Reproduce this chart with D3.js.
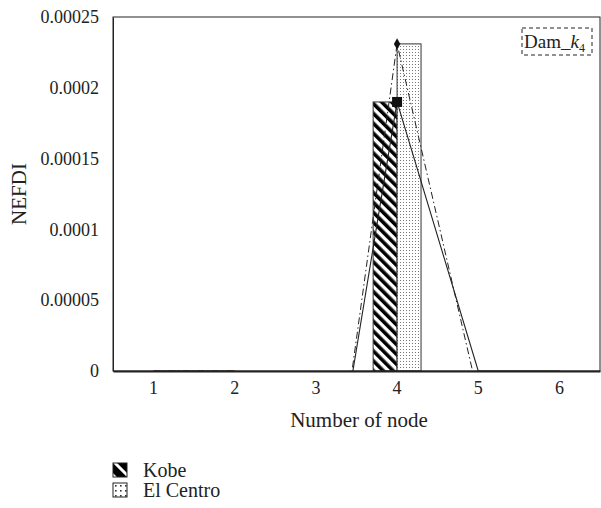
<!DOCTYPE html>
<html>
<head>
<meta charset="utf-8">
<script src="https://cdn.jsdelivr.net/npm/d3@7"></script>
<style>
  body { margin: 0; background: #fff; }
  svg { display: block; font-family: "Liberation Serif", "DejaVu Serif", serif; }
</style>
</head>
<body>
<svg id="chart" width="601" height="508"></svg>
<script>
// data
nodes = ["1", "2", "3", "4", "5", "6"]
series = ["Kobe", "El Centro"]
kobeBars = [0, 0, 0, 0.00019, 0, 0]
elCentroBars = [0, 0, 0, 0.000231, 0, 0]
// line series (parts below zero are clipped by the axis)
kobeLine = [0, 0, -0.000159, 0.00019, 0, 0]
elCentroLine = [0, 0, -0.000185, 0.000231, -0.0000174, 0]
yTicks = [0, 0.00005, 0.0001, 0.00015, 0.0002, 0.00025]
yTickLabels = ["0", "0.00005", "0.0001", "0.00015", "0.0002", "0.00025"]

const svg = d3.select("#chart")
const margin = { top: 17, right: 1, bottom: 137, left: 113 }
const W = 601, H = 508
const innerW = W - margin.left - margin.right
const innerH = H - margin.top - margin.bottom

const x = d3.scaleBand().domain(nodes).range([margin.left, W - margin.right])
const groupW = x.bandwidth() * 0.59
const x1 = d3.scaleBand().domain(series).range([-groupW / 2, groupW / 2])
const y = d3.scaleLinear().domain([0, 0.00025]).range([H - margin.bottom, margin.top])

// patterns
const defs = svg.append("defs")
const hatch = defs.append("pattern")
    .attr("id", "hatch")
    .attr("patternUnits", "userSpaceOnUse")
    .attr("width", 7).attr("height", 7)
    .attr("patternTransform", "rotate(-45)")
hatch.append("rect").attr("width", 7).attr("height", 7).attr("fill", "#fff")
hatch.append("rect").attr("width", 3.6).attr("height", 7).attr("fill", "#000")

const hatchBig = defs.append("pattern")
    .attr("id", "hatch-big")
    .attr("patternUnits", "userSpaceOnUse")
    .attr("width", 10).attr("height", 10)
    .attr("patternTransform", "translate(113,0) rotate(-45)")
hatchBig.append("rect").attr("width", 10).attr("height", 10).attr("fill", "#000")
hatchBig.append("rect").attr("width", 3).attr("height", 10).attr("fill", "#fff")

const dots = defs.append("pattern")
    .attr("id", "dots")
    .attr("patternUnits", "userSpaceOnUse")
    .attr("width", 3).attr("height", 3)
dots.append("rect").attr("width", 3).attr("height", 3).attr("fill", "#fff")
dots.append("rect").attr("x", 1).attr("y", 1).attr("width", 1).attr("height", 1).attr("fill", "#777")

const dotsBig = defs.append("pattern")
    .attr("id", "dots-big")
    .attr("patternUnits", "userSpaceOnUse")
    .attr("width", 5).attr("height", 5)
dotsBig.append("rect").attr("width", 5).attr("height", 5).attr("fill", "#fff")
dotsBig.append("rect").attr("x", 2).attr("y", 2).attr("width", 1.6).attr("height", 1.6).attr("fill", "#333")

defs.append("clipPath").attr("id", "plot-clip")
    .append("rect")
    .attr("x", margin.left).attr("y", margin.top)
    .attr("width", innerW).attr("height", innerH)

const fills = { "Kobe": "url(#hatch)", "El Centro": "url(#dots)" }
const legendFills = { "Kobe": "url(#hatch-big)", "El Centro": "url(#dots-big)" }

// bars
const barData = []
nodes.forEach((n, i) => {
    barData.push({ node: n, s: "Kobe", v: kobeBars[i] })
    barData.push({ node: n, s: "El Centro", v: elCentroBars[i] })
})
svg.append("g")
    .selectAll("rect")
    .data(barData.filter(d => d.v > 0))
    .join("rect")
    .attr("x", d => x(d.node) + x.bandwidth() / 2 + x1(d.s))
    .attr("y", d => y(d.v))
    .attr("width", x1.bandwidth())
    .attr("height", d => y(0) - y(d.v))
    .attr("fill", d => fills[d.s])
    .attr("stroke", "#333")
    .attr("stroke-width", 1)

// lines
const line = d3.line()
    .x((d, i) => x(nodes[i]) + x.bandwidth() / 2)
    .y(d => y(d))

const lines = svg.append("g").attr("clip-path", "url(#plot-clip)")
lines.append("path")
    .attr("d", line(kobeLine))
    .attr("fill", "none")
    .attr("stroke", "#222")
    .attr("stroke-width", 1.1)
lines.append("path")
    .attr("d", line(elCentroLine))
    .attr("fill", "none")
    .attr("stroke", "#222")
    .attr("stroke-width", 1)
    .attr("stroke-dasharray", "7,3,1.5,3")

// markers
const cx = i => x(nodes[i]) + x.bandwidth() / 2
kobeLine.forEach((v, i) => {
    if (v <= 0) return
    svg.append("rect")
        .attr("x", cx(i) - 5).attr("y", y(v) - 5)
        .attr("width", 10).attr("height", 10)
        .attr("fill", "#111")
})
elCentroLine.forEach((v, i) => {
    if (v <= 0) return
    svg.append("path")
        .attr("d", d3.symbol(d3.symbolDiamond, 36)())
        .attr("transform", `translate(${cx(i)},${y(v)})`)
        .attr("fill", "#111")
})

// frame
svg.append("rect")
    .attr("x", margin.left).attr("y", margin.top)
    .attr("width", innerW).attr("height", innerH)
    .attr("fill", "none")
    .attr("stroke", "#222")
    .attr("stroke-width", 1)

// axes
const yAxis = d3.axisLeft(y)
    .tickValues(yTicks)
    .tickFormat((d, i) => yTickLabels[i])
    .tickSize(0)
    .tickPadding(14)
svg.append("g")
    .attr("transform", `translate(${margin.left},0)`)
    .call(yAxis)
    .call(g => g.select(".domain").attr("stroke", "#222"))
    .call(g => g.selectAll("text").attr("font-size", 18).attr("fill", "#222").attr("font-family", "Liberation Serif"))

const xAxis = d3.axisBottom(x).tickSize(0).tickPadding(10)
svg.append("g")
    .attr("transform", `translate(0,${y(0)})`)
    .call(xAxis)
    .call(g => g.select(".domain").attr("stroke", "#222").attr("stroke-width", 2))
    .call(g => g.selectAll("text").attr("font-size", 18).attr("fill", "#222").attr("font-family", "Liberation Serif"))

// axis titles
svg.append("text")
    .attr("x", 359)
    .attr("y", 427)
    .attr("text-anchor", "middle")
    .attr("font-size", 21)
    .attr("fill", "#222")
    .text("Number of node")

svg.append("text")
    .attr("transform", `translate(26,${(margin.top + y(0)) / 2}) rotate(-90)`)
    .attr("text-anchor", "middle")
    .attr("font-size", 21)
    .attr("fill", "#222")
    .text("NEFDI")

// Dam_k4 label box
svg.append("rect")
    .attr("x", 522).attr("y", 28)
    .attr("width", 70).attr("height", 27)
    .attr("fill", "none")
    .attr("stroke", "#222")
    .attr("stroke-dasharray", "4,3")
const dam = svg.append("text")
    .attr("x", 524).attr("y", 48)
    .attr("font-size", 19)
    .attr("fill", "#222")
dam.append("tspan").text("Dam_")
dam.append("tspan").attr("font-style", "italic").text("k")
dam.append("tspan").attr("font-size", 12).attr("dy", 4).text("4")

// legend
const legend = svg.append("g")
    .selectAll("g")
    .data(series)
    .join("g")
    .attr("transform", (d, i) => `translate(113,${463 + i * 20})`)
legend.append("rect")
    .attr("width", 14).attr("height", 14)
    .attr("fill", d => legendFills[d])
    .attr("stroke", "#222")
legend.append("text")
    .attr("x", 30).attr("y", 14)
    .attr("font-size", 20)
    .attr("fill", "#222")
    .text(d => d)
</script>
</body>
</html>
